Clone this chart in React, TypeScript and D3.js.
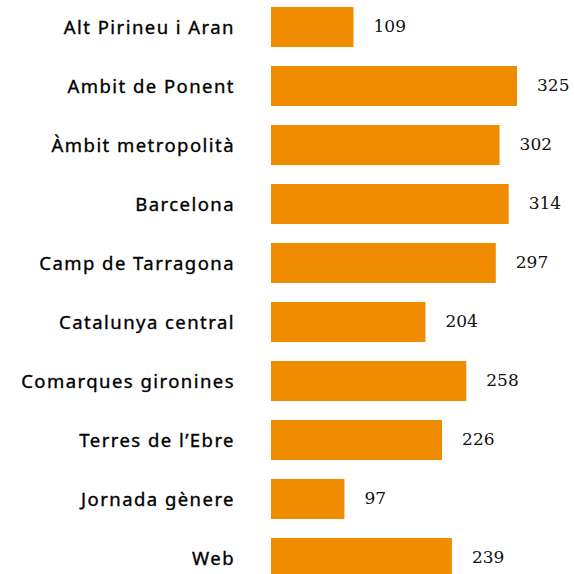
import React, { useEffect, useRef } from 'react';
import * as d3 from 'd3';

const categories = [
  'Alt Pirineu i Aran',
  'Ambit de Ponent',
  'Àmbit metropolità',
  'Barcelona',
  'Camp de Tarragona',
  'Catalunya central',
  'Comarques gironines',
  "Terres de l’Ebre",
  'Jornada gènere',
  'Web',
];
const values = [109, 325, 302, 314, 297, 204, 258, 226, 97, 239];

const App = () => {
  const svgRef = useRef<SVGSVGElement>(null);
  const width = 574;
  const height = 574;
  const BAR_COLOR = '#f08c00';

  useEffect(() => {
    if (!svgRef.current) return;
    const svg = d3.select(svgRef.current);
    svg.selectAll('*').remove();

    // bars start at x=271, 325 ends near x=517
    const x = d3.scaleLinear().domain([0, 325]).range([271, 517]);
    // 59px per row, 40px bar height
    const y = d3.scaleBand()
      .domain(categories)
      .range([7, 7 + 59 * categories.length - 19])
      .paddingInner(19 / 59)
      .paddingOuter(0);

    const rows = svg.selectAll('g.row')
      .data(categories)
      .enter()
      .append('g')
      .attr('class', 'row');

    rows.append('rect')
      .attr('x', x(0))
      .attr('y', d => y(d)!)
      .attr('width', (d, i) => x(values[i]) - x(0))
      .attr('height', y.bandwidth())
      .attr('fill', BAR_COLOR);

    // etiquetes a l'esquerra
    rows.append('text')
      .attr('x', 235)
      .attr('y', d => y(d)! + y.bandwidth() / 2)
      .attr('dy', '0.36em')
      .attr('text-anchor', 'end')
      .attr('font-family', '"Noto Sans", sans-serif')
      .attr('font-size', '18.5px')
      .attr('letter-spacing', '1.45px')
      .attr('fill', '#000')
      .attr('stroke', '#000')
      .attr('stroke-width', 0.35)
      .text(d => d);

    // valors
    rows.append('text')
      .attr('x', (d, i) => x(values[i]) + 20)
      .attr('y', d => y(d)! + y.bandwidth() / 2)
      .attr('dy', '0.3em')
      .attr('font-family', '"DejaVu Serif", serif')
      .attr('font-size', '17px')
      .attr('fill', '#111')
      .text((d, i) => values[i]);
  }, []);

  return (
    <svg
      ref={svgRef}
      width={width}
      height={height}
      style={{ position: 'absolute', left: 0, top: 0, background: '#fff' }}
    />
  );
};

export default App;
